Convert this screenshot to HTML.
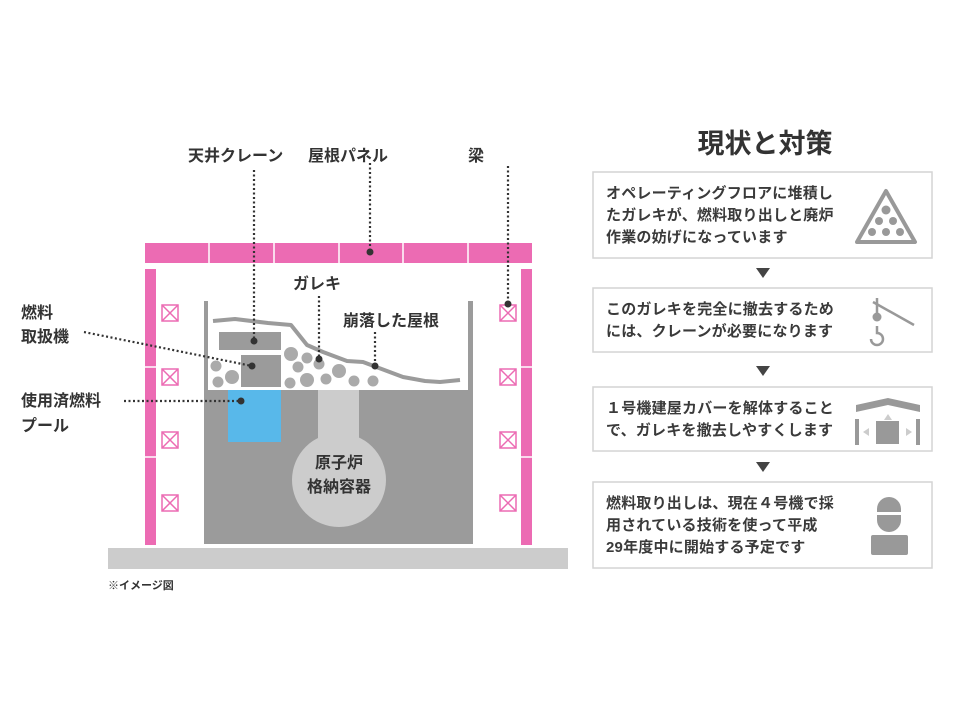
<!DOCTYPE html>
<html><head><meta charset="utf-8"><style>
html,body{margin:0;padding:0;background:#fff}
svg{display:block}
text{font-family:"Liberation Sans","Noto Sans CJK JP",sans-serif;fill:#333;font-weight:bold}
.r{font-size:15px;font-weight:bold;fill:#3a3a3a;letter-spacing:0.2px}
</style></head><body>
<svg width="960" height="720" viewBox="0 0 960 720" xmlns="http://www.w3.org/2000/svg">
<rect x="108" y="548" width="460" height="21" fill="#cccccc"/>
<rect x="145" y="243" width="387" height="20" fill="#ec6bb3"/>
<g stroke="#fff" stroke-width="1.5">
<line x1="209" y1="243" x2="209" y2="263"/><line x1="274" y1="243" x2="274" y2="263"/><line x1="339" y1="243" x2="339" y2="263"/><line x1="403" y1="243" x2="403" y2="263"/><line x1="468" y1="243" x2="468" y2="263"/>
</g>
<rect x="145" y="269" width="11" height="276" fill="#ec6bb3"/>
<rect x="521" y="269" width="11" height="276" fill="#ec6bb3"/>
<g stroke="#fff" stroke-width="1.5">
<line x1="145" y1="367" x2="156" y2="367"/><line x1="145" y1="457" x2="156" y2="457"/>
<line x1="521" y1="367" x2="532" y2="367"/><line x1="521" y1="457" x2="532" y2="457"/>
</g>
<g stroke="#ec6bb3" stroke-width="1.5" fill="none">
<g id="xb"><rect x="162" y="305" width="16" height="16"/><line x1="162" y1="305" x2="178" y2="321"/><line x1="178" y1="305" x2="162" y2="321"/></g>
<use href="#xb" y="64"/><use href="#xb" y="127"/><use href="#xb" y="190"/>
<use href="#xb" x="338"/><use href="#xb" x="338" y="64"/><use href="#xb" x="338" y="127"/><use href="#xb" x="338" y="190"/>
</g>
<rect x="204" y="301" width="269" height="243" fill="#9b9b9b"/>
<rect x="208" y="301" width="260" height="89" fill="#fff"/>
<rect x="228" y="390" width="53" height="52" fill="#58b8ea"/>
<rect x="318" y="390" width="41" height="60" fill="#cccccc"/>
<circle cx="339" cy="480" r="47" fill="#cccccc"/>
<rect x="219" y="332" width="62" height="18" fill="#9b9b9b"/>
<rect x="241" y="355" width="40" height="32" fill="#9b9b9b"/>
<g fill="#aaaaaa">
<circle cx="216" cy="366" r="5.5"/><circle cx="218" cy="382" r="5.5"/><circle cx="232" cy="377" r="7"/>
<circle cx="291" cy="354" r="7"/><circle cx="307" cy="358" r="5.5"/><circle cx="298" cy="367" r="5.5"/><circle cx="319" cy="364" r="5.5"/>
<circle cx="290" cy="383" r="5.5"/><circle cx="307" cy="380" r="7"/><circle cx="326" cy="379" r="5.5"/><circle cx="339" cy="371" r="7"/>
<circle cx="354" cy="381" r="5.5"/><circle cx="373" cy="381" r="5.5"/>
</g>
<polyline points="213,321 235,319 268,323 291,325 307,345 323,352 347,361 363,362 403,377 425,381 440,382 460,380" fill="none" stroke="#9b9b9b" stroke-width="4" stroke-linejoin="round"/>
<g stroke="#333" stroke-width="2.2" stroke-dasharray="2 2.5" fill="none">
<line x1="254" y1="170" x2="254" y2="341"/>
<line x1="370" y1="163" x2="370" y2="252"/>
<line x1="508" y1="166" x2="508" y2="304"/>
<line x1="319" y1="296" x2="319" y2="359"/>
<line x1="375" y1="332" x2="375" y2="366"/>
<line x1="84" y1="332" x2="252" y2="366"/>
<line x1="124" y1="401" x2="241" y2="401"/>
</g>
<g fill="#333">
<circle cx="254" cy="341" r="3.5"/><circle cx="370" cy="252" r="3.5"/><circle cx="508" cy="304" r="3.5"/>
<circle cx="319" cy="359" r="3.5"/><circle cx="375" cy="366" r="3.5"/><circle cx="252" cy="366" r="3.5"/><circle cx="241" cy="401" r="3.5"/>
</g>
<g font-size="16">
<text x="188" y="161">天井クレーン</text>
<text x="308" y="161">屋根パネル</text>
<text x="468" y="161">梁</text>
<text x="293" y="289">ガレキ</text>
<text x="343" y="326">崩落した屋根</text>
<text x="21" y="318">燃料</text>
<text x="21" y="342">取扱機</text>
<text x="21" y="406">使用済燃料</text>
<text x="21" y="431">プール</text>
<text x="339" y="468" text-anchor="middle">原子炉</text>
<text x="339" y="492" text-anchor="middle">格納容器</text>
</g>
<text x="108" y="589" font-size="11">※イメージ図</text>
<text x="765" y="153" font-size="27" text-anchor="middle">現状と対策</text>
<g fill="#fff" stroke="#d4d4d4" stroke-width="1.5">
<rect x="593" y="172" width="339" height="86"/>
<rect x="593" y="288" width="339" height="64"/>
<rect x="593" y="387" width="339" height="64"/>
<rect x="593" y="482" width="339" height="86"/>
</g>
<g fill="#444">
<polygon points="756,268 770,268 763,278"/>
<polygon points="756,366 770,366 763,376"/>
<polygon points="756,462 770,462 763,472"/>
</g>
<text class="r" x="606" y="198">オペレーティングフロアに堆積し</text>
<text class="r" x="606" y="220">たガレキが、燃料取り出しと廃炉</text>
<text class="r" x="606" y="242">作業の妨げになっています</text>
<text class="r" x="606" y="314">このガレキを完全に撤去するため</text>
<text class="r" x="606" y="336">には、クレーンが必要になります</text>
<text class="r" x="606" y="413">１号機建屋カバーを解体すること</text>
<text class="r" x="606" y="435">で、ガレキを撤去しやすくします</text>
<text class="r" x="606" y="508">燃料取り出しは、現在４号機で採</text>
<text class="r" x="606" y="530">用されている技術を使って平成</text>
<text class="r" x="606" y="552">29年度中に開始する予定です</text>
<polygon points="886,191 915,242 857,242" fill="none" stroke="#999" stroke-width="4" stroke-linejoin="round"/>
<g fill="#999"><circle cx="886" cy="210" r="4.5"/><circle cx="879" cy="221" r="4"/><circle cx="893" cy="221" r="4"/><circle cx="872" cy="232" r="4"/><circle cx="886" cy="232" r="4"/><circle cx="900" cy="232" r="4"/></g>
<g stroke="#999" stroke-width="2.5" fill="none">
<line x1="873" y1="302" x2="914" y2="325"/><line x1="877" y1="298" x2="877" y2="313"/>
<path d="M877,326 L877,333 A6,6 0 1 1 871,339"/>
</g>
<circle cx="877" cy="317" r="4.5" fill="#999"/>
<polygon points="856,405 888,398 920,405 920,412 888,405 856,412" fill="#999"/>
<polygon points="888,414 884,420 892,420" fill="#ccc"/>
<rect x="855" y="419" width="4" height="26" fill="#999"/><rect x="916" y="419" width="4" height="26" fill="#999"/>
<rect x="876" y="421" width="23" height="23" fill="#999"/>
<polygon points="863,432 869,428 869,436" fill="#ccc"/><polygon points="912,432 906,428 906,436" fill="#ccc"/>
<path d="M877,509 A12,12 0 0 1 901,509 L901,520 A12,12 0 0 1 877,520 Z" fill="#999"/>
<rect x="876" y="512" width="26" height="3" fill="#fff"/>
<rect x="871" y="535" width="37" height="20" rx="2" fill="#999"/>
</svg>
</body></html>
